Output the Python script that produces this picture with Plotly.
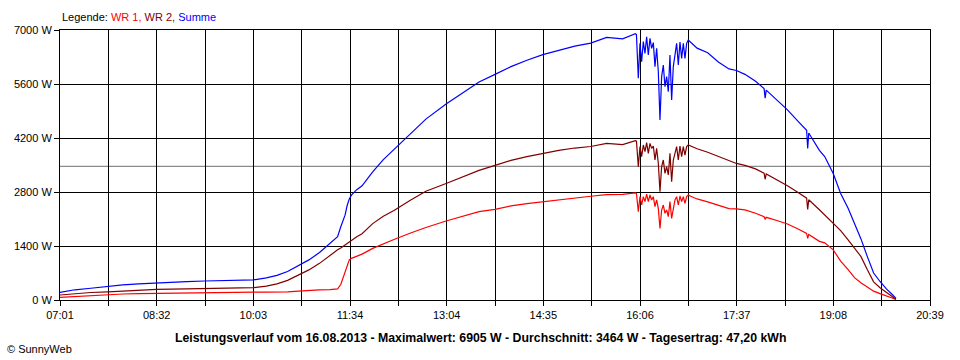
import datetime as dt
import plotly.graph_objects as go

DATE = "2013-08-16"

# Sample times (HH:MM[:SS])
TIMES = [
    "07:01", "07:08", "07:15", "07:30", "07:46", "08:00", "08:15", "08:32", "09:00", "09:17",
    "09:30", "09:45", "10:03", "10:15", "10:25", "10:35", "10:45", "10:55", "11:05", "11:15",
    "11:22", "11:25", "11:27", "11:29", "11:31", "11:33", "11:35", "11:40", "11:45", "11:55",
    "12:05", "12:15", "12:30", "12:45", "13:04", "13:20", "13:35", "13:50", "14:05", "14:20",
    "14:35", "14:50", "15:05", "15:20", "15:35", "15:50", "16:02", "16:03",
    "16:04:45", "16:06:19", "16:07:53", "16:09:27", "16:11:01", "16:12:35", "16:14:09", "16:15:43",
    "16:17:17", "16:18:51", "16:20:25", "16:21:59", "16:23:33", "16:25:07", "16:26:41", "16:28:15",
    "16:29:49", "16:31:23", "16:32:57", "16:34:31", "16:36:05", "16:37:39", "16:39:13", "16:40:47",
    "16:42:21", "16:43:55", "16:45:29", "16:47:03", "16:48:37", "16:50:11", "16:51:45",
    "16:54", "17:00", "17:10", "17:20", "17:30", "17:37", "17:45", "17:55", "18:03", "18:04",
    "18:05", "18:15", "18:25", "18:35", "18:43", "18:44", "18:45", "18:55", "19:00", "19:08",
    "19:15", "19:22", "19:28", "19:34", "19:40", "19:46", "19:52", "19:58", "20:04", "20:07",
]

WR1 = [
    70, 80, 95, 110, 145, 155, 165, 173, 190, 199,
    199, 200, 202, 205, 205, 210, 230, 250, 260, 270,
    290, 400, 560, 700, 880, 1040, 1080, 1140, 1190, 1338,
    1460, 1570, 1730, 1880, 2048, 2180, 2290, 2351, 2440, 2500,
    2550, 2600, 2650, 2690, 2730, 2740, 2775, 2760,
    2290, 2679, 2463, 2679, 2549, 2748, 2549, 2722,
    2593, 2679, 2420, 2593, 2376, 1858, 2333, 2463,
    2247, 2333, 2160, 2549, 2117, 2420, 2593, 2679,
    2463, 2696, 2549, 2679, 2506, 2679, 2722,
    2690, 2620, 2545, 2450, 2370, 2360, 2335, 2250, 2160, 2090,
    2143, 2060, 1970, 1840, 1728, 1600, 1700, 1520, 1480, 1300,
    1010, 790, 580, 450, 335, 230, 165, 95, 45, 15,
]

WR2 = [
    130, 150, 170, 195, 210, 235, 255, 276, 288, 294,
    300, 310, 320, 360, 420, 510, 640, 780, 950, 1167,
    1300, 1350, 1390, 1430, 1470, 1500, 1530, 1640, 1720, 1980,
    2170, 2320, 2580, 2820, 3020, 3200, 3360, 3490, 3620, 3715,
    3800, 3880, 3940, 3980, 4060, 4030, 4130, 4120,
    3457, 3976, 3715, 4019, 3846, 4078, 3802, 4061,
    3932, 3993, 3630, 3932, 3544, 2809, 3457, 3630,
    3283, 3457, 3241, 3802, 3067, 3630, 3802, 3976,
    3630, 3993, 3715, 3976, 3759, 3976, 4019,
    3990, 3920, 3830, 3725, 3600, 3540, 3490, 3400, 3290, 3130,
    3267, 3120, 2960, 2790, 2640, 2350, 2600, 2340, 2210, 1990,
    1800, 1560, 1350, 1130, 790, 470, 320, 200, 90, 20,
]

SUMME = [
    200, 230, 265, 305, 355, 390, 420, 449, 478, 493,
    500, 510, 522, 575, 640, 740, 880, 1040, 1230, 1460,
    1640, 1900, 2050, 2200, 2450, 2620, 2720, 2860, 2960, 3320,
    3640, 3900, 4310, 4690, 5080, 5370, 5650, 5850, 6050, 6215,
    6360, 6470, 6580, 6660, 6810, 6770, 6905, 6880,
    5747, 6655, 6178, 6698, 6395, 6826, 6351, 6783,
    6525, 6672, 6050, 6525, 5920, 4667, 5790, 6093,
    5530, 5790, 5401, 6351, 5184, 6050, 6395, 6655,
    6093, 6689, 6264, 6655, 6265, 6655, 6741,
    6680, 6530, 6410, 6170, 5990, 5950, 5850, 5670, 5480, 5230,
    5440, 5190, 4930, 4630, 4400, 3930, 4330, 3880, 3720, 3280,
    2760, 2380, 1980, 1590, 1130, 700, 480, 290, 130, 40,
]

AVERAGE = 3464

X_START = "07:01"
X_END = "20:39"
X_TICK_LABELS = ["07:01", "", "08:32", "", "10:03", "", "11:34", "", "13:04", "",
                 "14:35", "", "16:06", "", "17:37", "", "19:08", "", "20:39"]
Y_TICKS = [0, 1400, 2800, 4200, 5600, 7000]
Y_TICK_LABELS = ["0 W", "1400 W", "2800 W", "4200 W", "5600 W", "7000 W"]

SERIES = [("WR 1", WR1, "#FF0000"), ("WR 2", WR2, "#800000"), ("Summe", SUMME, "#0000FF")]


def to_dt(t):
    fmt = "%Y-%m-%d %H:%M:%S" if t.count(":") == 2 else "%Y-%m-%d %H:%M"
    return dt.datetime.strptime(f"{DATE} {t}", fmt)


x_vals = [to_dt(t) for t in TIMES]
x0, x1 = to_dt(X_START), to_dt(X_END)
n = len(X_TICK_LABELS) - 1
tick_vals = [x0 + (x1 - x0) * k / n for k in range(n + 1)]

fig = go.Figure()
for name, vals, color in SERIES:
    fig.add_trace(go.Scatter(x=x_vals, y=vals, mode="lines", name=name,
                             line=dict(color=color, width=1.2)))

fig.add_shape(type="line", xref="paper", x0=0, x1=1, yref="y", y0=AVERAGE, y1=AVERAGE,
              line=dict(color="#8C8C8C", width=1.3), layer="between")

FONT = "Liberation Sans, Arial, sans-serif"

fig.update_layout(
    width=960, height=360,
    margin=dict(l=60, r=30, t=30, b=60),
    paper_bgcolor="white", plot_bgcolor="white",
    showlegend=False,
    font=dict(family=FONT, size=11, color="black"),
    xaxis=dict(type="date", range=[x0, x1], tickmode="array", tickvals=tick_vals,
               ticktext=X_TICK_LABELS, showgrid=True, gridcolor="black", gridwidth=1,
               ticks="outside", ticklen=5, tickcolor="black", tickwidth=1,
               showline=True, linecolor="black", linewidth=1, mirror=True, zeroline=False,
               tickfont=dict(family=FONT, size=11, color="black")),
    yaxis=dict(range=[0, 7000], tickmode="array", tickvals=Y_TICKS, ticktext=Y_TICK_LABELS,
               showgrid=True, gridcolor="black", gridwidth=1,
               ticks="outside", ticklen=5, tickcolor="black", tickwidth=1,
               showline=True, linecolor="black", linewidth=1, mirror=True, zeroline=False,
               tickfont=dict(family=FONT, size=11, color="black")),
)

legend_text = ("Legende: <span style='color:#FF0000'>WR 1,</span> "
               "<span style='color:#800000'>WR 2,</span> "
               "<span style='color:#0000FF'>Summe</span>")
fig.add_annotation(text=legend_text, xref="paper", yref="paper", x=0, y=1.048,
                   xanchor="left", yanchor="middle", showarrow=False,
                   font=dict(family=FONT, size=11, color="black"))

title_text = ("<b>Leistungsverlauf vom 16.08.2013 - Maximalwert: 6905 W - "
              "Durchschnitt: 3464 W - Tagesertrag: 47,20 kWh</b>")
fig.add_annotation(text=title_text, xref="paper", yref="paper", x=(480 - 60) / 870,
                   y=(300 - 338) / 270, xanchor="center", yanchor="middle", showarrow=False,
                   font=dict(family=FONT, size=12.3, color="black"))

fig.add_annotation(text="© SunnyWeb", xref="paper", yref="paper", x=(5 - 60) / 870,
                   y=(300 - 349) / 270, xanchor="left", yanchor="middle", showarrow=False,
                   font=dict(family=FONT, size=11, color="black"))

fig.write_html("out.html", config={"displayModeBar": False},
               post_script="document.body.style.margin='0px';")
